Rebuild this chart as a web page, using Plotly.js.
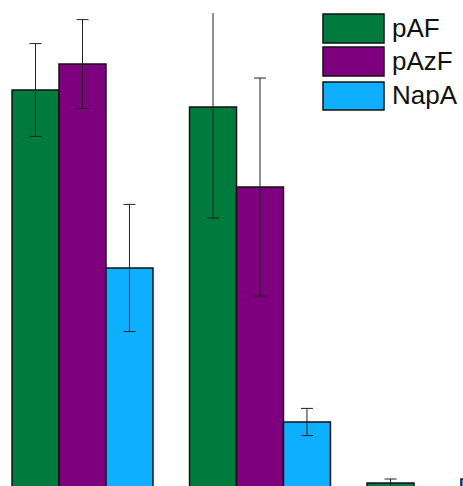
<!DOCTYPE html>
<html>
<head>
<meta charset="utf-8">
<script src="https://cdn.plot.ly/plotly-3.0.1.min.js"></script>
<style>html,body{margin:0;padding:0;background:#fff;}#chart{width:463px;height:486px;}</style>
</head>
<body>
<div id="chart"></div>
<script>
// Data
const groups = ["Group 1", "Group 2", "Group 3"];
const seriesNames = ["pAF", "pAzF", "NapA"];
const pAF = [99.5, 95.25, 1.25];
const pAFErr = [11.6, 27.75, 1.0];
const pAzF = [106, 75.25, 0];
const pAzFErr = [11.1, 27.25, 0];
const NapA = [55, 16.5, 2.25];
const NapAErr = [15.9, 3.4, 0.5];
const colors = ["#007A3D", "#7F007F", "#0FAFFF"];

const values = [pAF, pAzF, NapA];
const errs = [pAFErr, pAzFErr, NapAErr];

const W = 463, H = 486, MT = 13;
const traces = seriesNames.map((name, i) => ({
  type: "bar",
  name: name,
  x: groups,
  y: values[i],
  marker: {color: colors[i], line: {color: "#111", width: 1.5}},
  error_y: {type: "data", array: errs[i], visible: true, color: "#222", thickness: 1, width: 6},
  showlegend: false
}));

// custom legend (big swatches)
const px = v => v / W;
const py = v => (H - v) / (H - MT);
const boxes = [[14, 43], [47, 76], [82, 110]];
const shapes = boxes.map((b, i) => ({
  type: "rect", xref: "paper", yref: "paper",
  x0: px(323), x1: px(384), y0: py(b[1]), y1: py(b[0]),
  fillcolor: colors[i], line: {color: "#111", width: 1.5}
}));
const annotations = boxes.map((b, i) => ({
  xref: "paper", yref: "paper", x: px(390), y: py((b[0] + b[1]) / 2 - 1),
  xanchor: "left", yanchor: "middle", showarrow: false,
  text: seriesNames[i],
  font: {family: "Liberation Sans, Arial, sans-serif", size: 26, color: "#111"}
}));

const layout = {
  width: W, height: H,
  margin: {l: 0, r: 0, t: MT, b: 0, pad: 0},
  paper_bgcolor: "#fff", plot_bgcolor: "#fff",
  barmode: "group", bargap: 0.206, bargroupgap: 0,
  xaxis: {range: [-0.4648, 2.1437], showticklabels: false, showgrid: false, zeroline: false, showline: false, ticks: ""},
  yaxis: {range: [0.5, 118.75], showticklabels: false, showgrid: false, zeroline: false, showline: false, ticks: ""},
  shapes: shapes,
  annotations: annotations
};
Plotly.newPlot("chart", traces, layout, {staticPlot: true, displayModeBar: false});
</script>
</body>
</html>
